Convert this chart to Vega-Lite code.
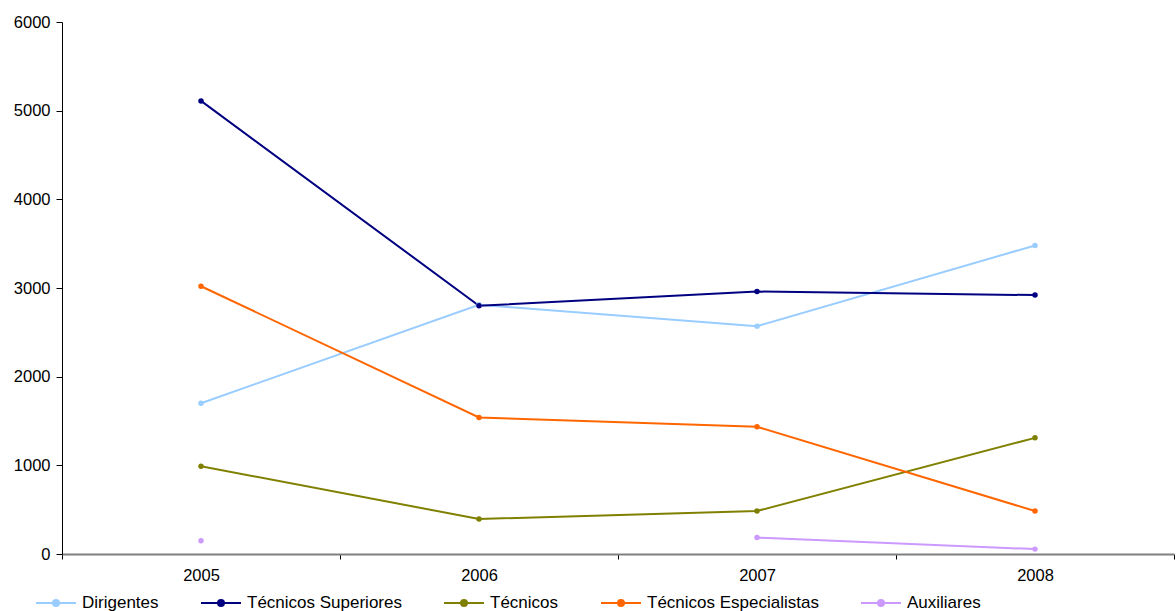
{
  "$schema": "https://vega.github.io/schema/vega-lite/v6.json",
  "width": 1112,
  "height": 532,
  "autosize": {"type": "none"},
  "padding": {"left": 62, "top": 22, "right": 2, "bottom": 57},
  "background": "white",
  "config": {
    "font": "Liberation Sans",
    "view": {"stroke": null},
    "axis": {"labelFont": "Liberation Sans", "labelFontSize": 16.5, "labelColor": "#000", "grid": false}
  },
  "data": {"values": [
    {"year": "2005", "cat": "Dirigentes", "v": 1700},
    {"year": "2006", "cat": "Dirigentes", "v": 2810},
    {"year": "2007", "cat": "Dirigentes", "v": 2570},
    {"year": "2008", "cat": "Dirigentes", "v": 3480},
    {"year": "2005", "cat": "Técnicos Superiores", "v": 5110},
    {"year": "2006", "cat": "Técnicos Superiores", "v": 2800},
    {"year": "2007", "cat": "Técnicos Superiores", "v": 2960},
    {"year": "2008", "cat": "Técnicos Superiores", "v": 2920},
    {"year": "2005", "cat": "Técnicos", "v": 990},
    {"year": "2006", "cat": "Técnicos", "v": 395},
    {"year": "2007", "cat": "Técnicos", "v": 485},
    {"year": "2008", "cat": "Técnicos", "v": 1310},
    {"year": "2005", "cat": "Técnicos Especialistas", "v": 3020},
    {"year": "2006", "cat": "Técnicos Especialistas", "v": 1540},
    {"year": "2007", "cat": "Técnicos Especialistas", "v": 1435},
    {"year": "2008", "cat": "Técnicos Especialistas", "v": 485},
    {"year": "2005", "cat": "Auxiliares", "v": 150},
    {"year": "2006", "cat": "Auxiliares", "v": null},
    {"year": "2007", "cat": "Auxiliares", "v": 185},
    {"year": "2008", "cat": "Auxiliares", "v": 55}
  ]},
  "encoding": {
    "x": {"field": "year", "type": "ordinal", "title": null,
      "scale": {"type": "band", "paddingInner": 0, "paddingOuter": 0},
      "axis": {"labelAngle": 0, "tickBand": "extent", "domainColor": "#808080", "domainWidth": 2, "tickColor": "#000", "tickSize": 5, "labelPadding": 8}},
    "y": {"field": "v", "type": "quantitative", "title": null,
      "scale": {"domain": [0, 6000], "nice": false},
      "axis": {"values": [0, 1000, 2000, 3000, 4000, 5000, 6000], "format": "d", "domainColor": "#000", "tickColor": "#000", "tickSize": 6, "labelPadding": 6}},
    "color": {"field": "cat", "type": "nominal", "title": null,
      "sort": ["Dirigentes", "Técnicos Superiores", "Técnicos", "Técnicos Especialistas", "Auxiliares"],
      "scale": {"domain": ["Dirigentes", "Técnicos Superiores", "Técnicos", "Técnicos Especialistas", "Auxiliares"],
        "range": ["#99CCFF", "#000080", "#808000", "#FF6600", "#CC99FF"]},
      "legend": {"orient": "none", "legendX": -27, "legendY": 560, "direction": "horizontal",
        "symbolType": "M-1,0L1,0M-0.15,0a0.15,0.15 0 1,0 0.3,0a0.15,0.15 0 1,0 -0.3,0",
        "symbolSize": 1600, "symbolStrokeWidth": 2, "labelFontSize": 17, "labelFont": "Liberation Sans", "labelColor": "#000",
        "labelOffset": 5, "columnPadding": 38, "labelLimit": 400,
        "encode": {"symbols": {"update": {"fill": {"scale": "color", "field": "value"}, "stroke": {"scale": "color", "field": "value"}, "opacity": {"value": 1}}}}}}
  },
  "layer": [
    {"mark": {"type": "line", "strokeWidth": 2}},
    {"mark": {"type": "point", "filled": true, "size": 30, "opacity": 1}}
  ]
}
